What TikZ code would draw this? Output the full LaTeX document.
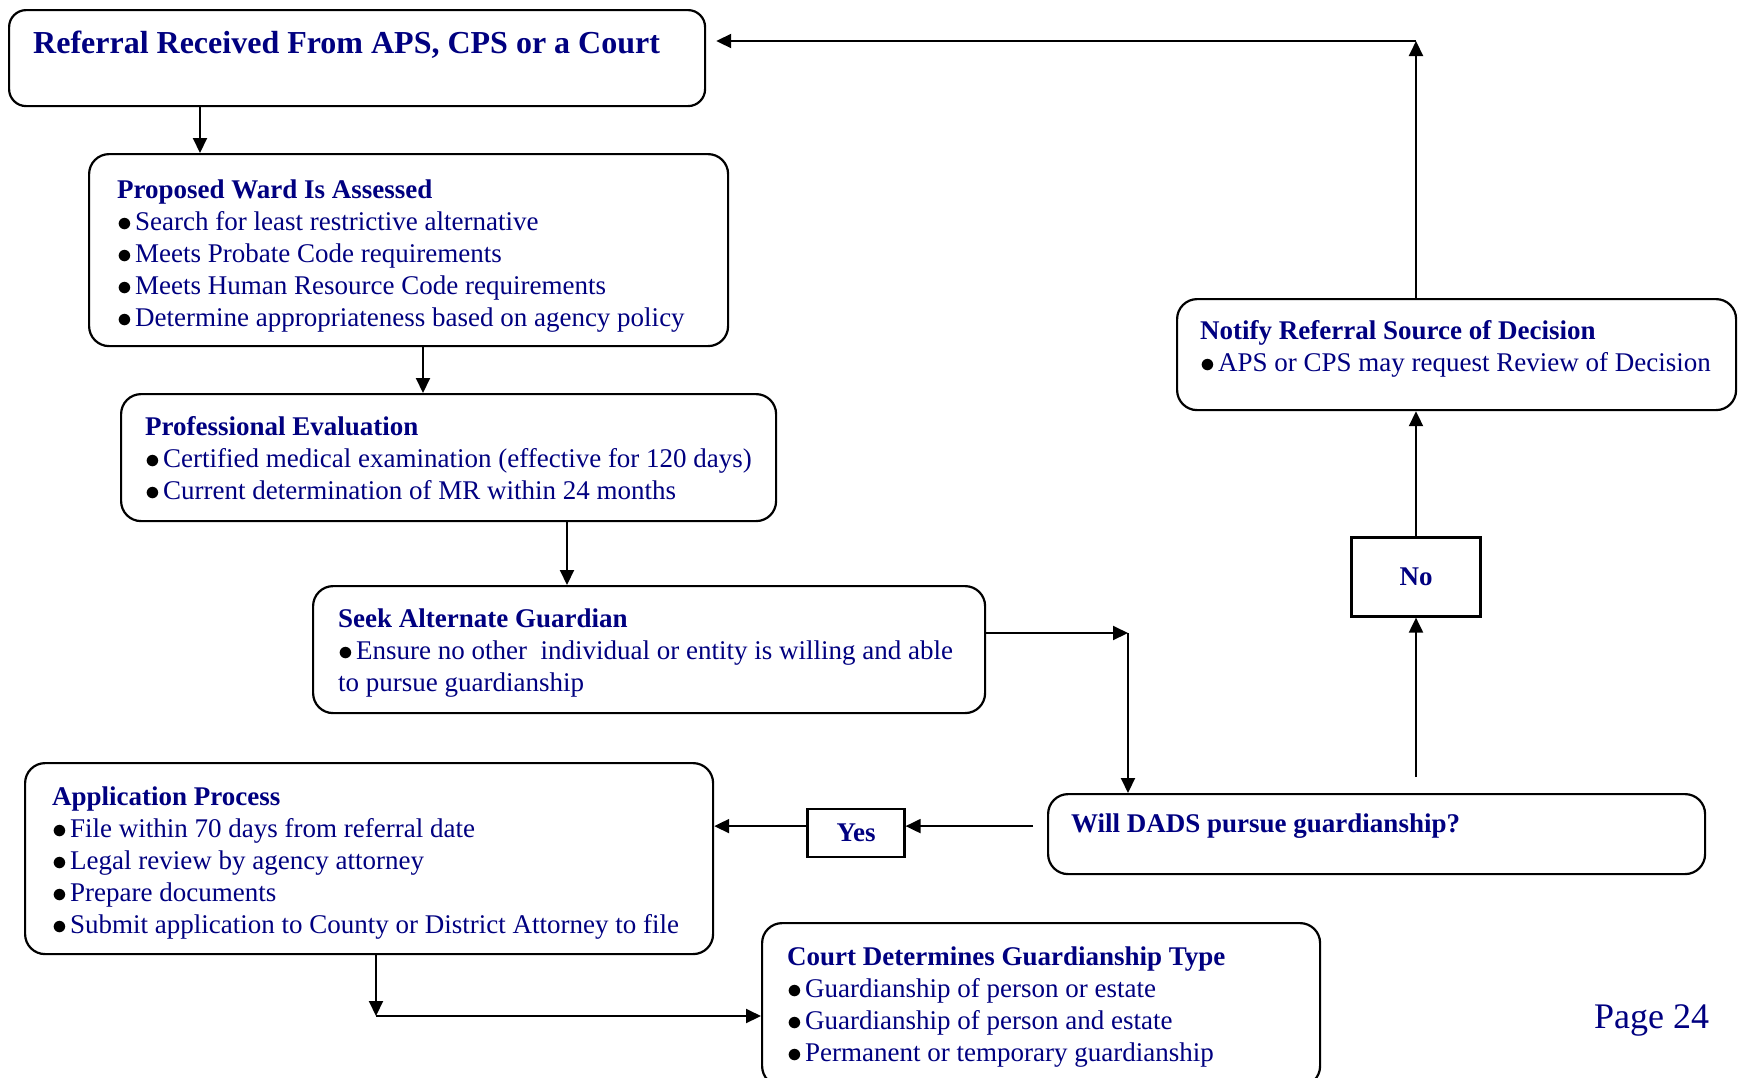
\documentclass[tikz,border=0pt]{standalone}
\usepackage{fontspec}
\setmainfont{Liberation Serif}
\usetikzlibrary{arrows.meta}
\definecolor{navy}{RGB}{0,0,128}
\newcommand{\bul}{\textcolor{black}{\raisebox{-1.2pt}{\scalebox{1.2}{$\bullet$}}}\hspace{3pt}}

\tikzset{
  box/.style={draw, line width=2.2pt, rounded corners=20pt, anchor=north west, inner sep=0pt},
  txt/.style={text=navy, align=left, anchor=west, inner sep=0pt, font=\fontsize{27pt}{32pt}\selectfont},
  tag/.style={draw, line width=2.2pt, text=navy, inner sep=0pt, font=\bfseries\fontsize{27pt}{32pt}\selectfont},
  link/.style={line width=2pt, -{Triangle[length=15pt,width=14pt]}},
}

\begin{document}
\begin{tikzpicture}[x=1pt,y=-1pt]
  \useasboundingbox (0,0) rectangle (1741,1077);
  \clip (0,0) rectangle (1741,1077);

  %%%%% boxes %%%%%
  \node[box, minimum width=696pt, minimum height=96pt, rounded corners=17pt] (refer) at (8,9) {};
  \node[box, minimum width=639pt, minimum height=192pt] (assess) at (88,153) {};
  \node[box, minimum width=655pt, minimum height=127pt] (prof) at (120,393) {};
  \node[box, minimum width=672pt, minimum height=127pt] (seek) at (312,585) {};
  \node[box, minimum width=688pt, minimum height=191pt] (appl) at (24,762) {};
  \node[box, minimum width=657pt, minimum height=80pt] (will) at (1047,793) {};
  \node[box, minimum width=558pt, minimum height=163pt] (court) at (761,922) {};
  \node[box, minimum width=559pt, minimum height=111pt] (notify) at (1176,298) {};

  \node[tag, minimum width=129pt, minimum height=79pt] (no) at (1416,577) {No};
  \node[tag, minimum width=97pt, minimum height=48pt] (yes) at (856,833) {Yes};

  %%%%% texts %%%%%
  \node[txt] (refertx) at ([xshift=25pt,yshift=13pt]refer.west)
    {\bfseries\fontsize{32pt}{38pt}\selectfont Referral Received From APS, CPS or a Court};
  \node[txt] (assesstx) at ([xshift=29pt,yshift=-6pt]assess.west)
    {\textbf{Proposed Ward Is Assessed}\\
     \bul Search for least restrictive alternative\\
     \bul Meets Probate Code requirements\\
     \bul Meets Human Resource Code requirements\\
     \bul Determine appropriateness based on agency policy};
  \node[txt] (proftx) at ([xshift=25pt,yshift=-1pt]prof.west)
    {\textbf{Professional Evaluation}\\
     \bul Certified medical examination (effective for 120 days)\\
     \bul Current determination of MR within 24 months};
  \node[txt] (seektx) at ([xshift=26pt,yshift=-3pt]seek.west)
    {\textbf{Seek Alternate Guardian}\\
     \bul Ensure no other\ \ individual or entity is willing and able\\
     to pursue guardianship};
  \node[txt] (appltx) at ([xshift=28pt,yshift=-4pt]appl.west)
    {\textbf{Application Process}\\
     \bul File within 70 days from referral date\\
     \bul Legal review by agency attorney\\
     \bul Prepare documents\\
     \bul Submit application to County or District Attorney to file};
  \node[txt] (willtx) at ([xshift=24pt,yshift=8pt]will.west)
    {\textbf{Will DADS pursue guardianship?}};
  \node[txt] (courttx) at ([xshift=26pt,yshift=-2pt]court.west)
    {\textbf{Court Determines Guardianship Type}\\
     \bul Guardianship of person or estate\\
     \bul Guardianship of person and estate\\
     \bul Permanent or temporary guardianship};
  \node[txt] (notifytx) at ([xshift=24pt,yshift=6pt]notify.west)
    {\textbf{Notify Referral Source of Decision}\\
     \bul APS or CPS may request Review of Decision};
  \node[txt, font=\fontsize{36pt}{40pt}\selectfont] (page) at (1594,1020) {Page 24};

  %%%%% connectors %%%%%
  \coordinate (k1) at ([xshift=192pt]refer.south west);
  \draw[link] (k1) -- (k1 |- assess.north);
  \coordinate (k2) at ([xshift=335pt]assess.south west);
  \draw[link] (k2) -- (k2 |- prof.north);
  \coordinate (k3) at ([xshift=447pt]prof.south west);
  \draw[link] (k3) -- (k3 |- seek.north);

  \coordinate (k4) at ([xshift=81pt,yshift=160pt]will.north west);
  \draw[link] (seek.east |- k4) -- (k4);
  \draw[link] (k4) -- (k4 |- will.north);

  \coordinate (k5) at ([xshift=-14pt,yshift=8pt]will.west);
  \draw[link] (k5) -- (k5 -| yes.east);
  \draw[link] (k5 -| yes.west) -- (k5 -| appl.east);

  \coordinate (k6) at ([xshift=369pt,yshift=16pt]will.north west);
  \draw[link] (k6) -- (k6 |- no.south);
  \draw[link] (no.north) -- (no.north |- notify.south);
  \coordinate (k8) at ([xshift=10pt,yshift=-32pt]refer.north east);
  \draw[link] (no.north |- notify.north) -- (no.north |- k8);
  \draw[link] (no.north |- k8) -- (k8);

  \coordinate (k9) at ([xshift=352pt]appl.south west);
  \coordinate (k10) at ([yshift=-94pt]court.north west);
  \draw[link] (k9) -- (k9 |- k10);
  \draw[link] (k9 |- k10) -- (k10);
\end{tikzpicture}
\end{document}
